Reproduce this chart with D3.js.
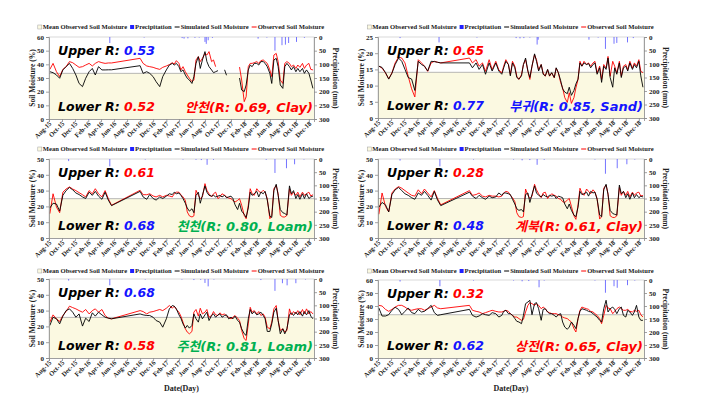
<!DOCTYPE html>
<html>
<head>
<meta charset="utf-8">
<script src="https://cdn.jsdelivr.net/npm/d3@7"></script>
<style>
body { margin: 0; background: #fff; }
svg { display: block; }
</style>
</head>
<body>
<svg id="chart" width="701" height="400"></svg>
<script>
// ---------------------------------------------------------------------------
// Data

// shared sampling dates (no data between late May and October 2016)
var dates = [
  "2015-08-05","2015-08-20","2015-09-05","2015-09-20","2015-10-05","2015-10-20","2015-11-05","2015-11-20","2015-12-05","2015-12-20",
  "2016-01-05","2016-01-20","2016-02-05","2016-02-20","2016-03-05","2016-03-20","2016-04-05","2016-04-20","2016-05-05","2016-05-20",
  "2016-10-01","2016-10-15","2016-11-01","2016-11-15","2016-12-01","2016-12-15","2017-01-01","2017-01-15","2017-02-01","2017-02-15",
  "2017-03-01","2017-03-10","2017-03-20","2017-04-01","2017-04-10","2017-04-20","2017-05-01","2017-05-10","2017-05-20","2017-06-01",
  "2017-06-10","2017-06-20","2017-07-01","2017-07-10","2017-07-20","2017-08-01","2017-08-10","2017-08-20","2017-09-01","2017-09-10",
  "2017-09-20","2017-10-01","2017-10-10","2017-10-20","2017-11-01","2017-11-10","2017-11-20","2017-12-01","2017-12-10","2017-12-20",
  "2018-01-01","2018-01-10","2018-01-20","2018-02-01","2018-02-10","2018-02-20","2018-03-01","2018-03-10","2018-03-20","2018-04-01",
  "2018-04-10","2018-04-20","2018-05-01","2018-05-10","2018-05-20","2018-06-01","2018-06-10","2018-06-20","2018-07-01","2018-07-10",
  "2018-07-20","2018-08-01","2018-08-10","2018-08-20","2018-09-01","2018-09-10","2018-09-20","2018-10-01","2018-10-10","2018-10-20",
  "2018-11-01","2018-11-10","2018-11-20","2018-12-01","2018-12-10","2018-12-20"
];

// 안천
var ancheonObs = [
  36.3, 40.7, 34.6, 31, 36.3, 38.3, 42, 41.2, 39.5, 37.8,
  38.3, 39.5, 40.7, 38.8, 40.7, 42, 41.2, 40.7, 41, 41,
  44.4, 40.7, 38.8, 38.3, 37.8, 37, 36.3, 37.8, 38.8, 39.8,
  41.2, 40.2, 42.7, 40.7, 35.9, 38.3, 34.6, 32.2, 29.8, 27.3,
  28.5, 43.2, 45.6, 42, 44.4, 48, 46.8, 49.3, 42, 43.2,
  38.3, null, null, null, null, null, null, null, null, null,
  null, 38, 28.5, 12.7, 16.3, 38.3, 40.7, 40.7, 41.2, 42,
  40.7, 42.7, 43.2, 42, 40.7, 35.9, 31, 46.8, 48, 42,
  28.5, 26, 40.7, 42, 40.7, 38.3, 39.5, 37, 39.5, 37.8,
  40.7, 37, 39.5, 40.7, 36.3, 35.9
];
var ancheonSim = [
  34.6, 33.9, 32.2, 29.8, 35.9, 38.3, 40.7, 37, 32.2, 26,
  23.7, 29.8, 34.6, 37, 32.2, 38.3, 35.9, 35.9, 36, 36,
  39, 33.4, 34.6, 33.4, 31, 27.3, 23.7, 31, 35.9, 39.5,
  40.7, 39.5, 40.7, 38.3, 34.6, 35.9, 32.2, 29.8, 28.5, 26,
  31, 40.7, 45.6, 37, 43.2, 49.3, 42, 38.3, 35.9, 33.9,
  34.6, 35.4, null, null, 36, 32, null, null, null, null,
  null, 30, 21.2, 20, 24.9, 35.9, 39.5, 38.3, 40.7, 40.7,
  39.5, 42, 42, 40.7, 38.3, 33.4, 26, 43.2, 44.4, 38.3,
  24.9, 22.4, 38.3, 40.7, 38.3, 35.9, 38.3, 34.6, 37, 34.6,
  37, 33.4, 35.9, 33.4, 28.5, 22.4
];
var ancheonRain = [["2016-05-12", 22], ["2016-10-20", 2], ["2017-04-16", 4], ["2017-04-25", 6],
  ["2017-05-13", 5], ["2017-06-15", 3], ["2017-07-05", 2], ["2017-08-01", 18], ["2017-08-07", 25],
  ["2017-08-16", 12], ["2017-09-05", 3], ["2018-04-07", 6], ["2018-05-18", 2], ["2018-06-25", 50],
  ["2018-07-28", 30], ["2018-08-13", 28], ["2018-08-28", 22], ["2018-10-04", 18], ["2018-11-10", 3]];
var ancheonMean = 33.4;

// 부귀
var bugwiObs = [
  16, 15.4, 13.9, 12.1, 13.9, 17, 18.8, 18.5, 17, 12.9,
  9, 6.5, 18, 17, 16, 14.4, 17, 17.5, 17.2, 17,
  18.5, 17, 18, 16, 17, 14.4, 18, 14.9, 17.5, 14.9,
  13.9, 16, 18, 16.5, 13.4, 17.5, 16, 12.9, 11.9, 13.4,
  16.5, 18, 14.4, 11.9, 16, 19.5, 18, 14.9, 16.5, 13.9,
  12.9, 14.9, 12.9, 13.9, 12.4, 15.4, 13.9, 10.9, 9.3, 6.3,
  4.8, 7.8, 4.5, 6.3, 9.3, 11.9, 17.5, 16, 17.5, 16.5,
  17, 16, 17, 17.5, 13.9, 16, 11.9, 16.5, 15.4, 19,
  12.9, 17.5, 16, 13.9, 17.5, 12.9, 16, 16.5, 14.9, 17.5,
  15.4, 17, 16, 18, 14.4, 14
];
var bugwiSim = [
  16, 15.6, 14, 12, 13.8, 16.5, 18.5, 17.5, 15, 12.5,
  12, 8.5, 17.5, 16.5, 16, 14.5, 17.5, 17.4, 17.2, 17,
  17, 15.5, 17, 15, 16.5, 13.5, 17, 14.5, 17, 14.5,
  13.5, 15.5, 17.5, 16.5, 13, 17, 15.5, 12.5, 12, 13,
  16.5, 18.5, 14.5, 12.5, 16, 19.8, 17.5, 14.5, 16.5, 13.5,
  13, 15, 13, 14, 12.5, 15.5, 14, 11.5, 9, 8,
  7.5, 9.5, 7, 8.5, 10.5, 12, 17, 16, 17, 16.5,
  16.8, 15.5, 16.5, 17, 13.5, 15.5, 11, 16, 15, 18.5,
  12.5, 9.5, 15.5, 13.5, 17, 12.5, 15.5, 16, 14.5, 17,
  15, 16.5, 15.5, 17.5, 13, 9.5
];
var bugwiRain = [["2015-11-12", 4], ["2016-05-12", 20], ["2016-11-05", 2], ["2017-05-07", 4],
  ["2017-05-25", 5], ["2017-06-12", 4], ["2017-07-10", 2], ["2017-08-13", 28], ["2017-08-18", 10],
  ["2018-04-12", 10], ["2018-05-25", 2], ["2018-06-28", 44], ["2018-08-07", 25], ["2018-08-20", 22],
  ["2018-10-09", 20], ["2018-11-05", 4]];
var bugwiMean = 14.1;

// 천천
var cheoncheonObs = [
  15.4, 28, 19.6, 16, 29, 31, 32.3, 31, 30, 28.7,
  27.4, 26, 30, 28, 31.2, 28, 26, 30, 24.9, 20.7,
  30.2, 27.4, 27.4, 28, 26.6, 26, 27, 26, 27, 26.6,
  26, 28, 29, 29, 27.4, 26, 23.8, 16.5, 14, 13.3,
  14, 30.2, 27, 24.9, 26, 34.4, 30.2, 28, 26, 28,
  29, 24.9, 26, 28, 27, 26, 25.3, 24.9, 23.8, 22.8,
  23.8, 24.9, 20.7, 14.3, 12.2, 20.7, 31.2, 28, 27, 31.2,
  29.5, 28.7, 30.2, 29, 24.9, 12.2, 14.3, 31.2, 33.3, 28,
  14.3, 13.3, 13.3, 14.3, 31.2, 27, 29, 27, 29, 26,
  29, 27, 28, 29, 26.6, 27.4
];
var cheoncheonSim = [
  19, 22, 21.5, 17, 27, 30, 32, 30.5, 28.5, 27.5,
  26, 25, 29, 27, 29.5, 26.5, 24.5, 29, 24, 20.5,
  29.5, 26, 24.5, 27.5, 25, 24, 26, 25, 26.5, 28,
  27.5, 29, 28, 28.5, 27, 25, 22, 19, 17, 18.5,
  16, 27, 29, 22, 27, 33, 29, 27, 26.5, 27,
  26, 26.5, 27, 26, 27, 25.5, 26, 26.5, 25, 21,
  18, 22, 17, 15, 13, 19, 29, 27, 28, 29.5,
  26, 29, 28, 29.5, 24, 14, 13, 30, 34, 27,
  18, 16, 15.5, 14.5, 33, 28, 30, 25, 27.5, 24.5,
  28, 25, 28, 25, 26, 26.5
];
var cheoncheonRain = [["2015-11-01", 8], ["2016-05-12", 28], ["2016-10-25", 2], ["2017-04-20", 2],
  ["2017-06-20", 3], ["2017-07-15", 4], ["2017-08-11", 22], ["2017-09-10", 3], ["2018-05-15", 3],
  ["2018-06-25", 53], ["2018-08-18", 35], ["2018-09-25", 20], ["2018-11-08", 2]];
var cheoncheonMean = 24.9;

// 계북
var gyebukObs = [
  15, 28.5, 20, 16.5, 28.5, 31, 32.5, 31.5, 30, 28.5,
  27, 26.5, 30.5, 28, 31, 28.5, 26, 30, 25, 21,
  30, 27, 27.5, 28.5, 26.5, 26, 27, 26.5, 26.5, 26,
  26.5, 28.5, 29.5, 29, 27, 25.5, 23, 16, 13.5, 13,
  13.5, 31, 27, 25, 26.5, 34, 30.5, 28, 25.5, 28.5,
  29, 25, 26.5, 28, 27, 26.5, 25, 24.5, 23, 22.5,
  24, 25, 20, 14, 11.8, 21, 31.5, 28.5, 27, 31,
  29.5, 28, 30.5, 29, 25, 12, 13.5, 31.5, 33.5, 28,
  14, 13, 13, 14, 32, 27, 29.5, 27, 29.5, 26,
  29, 27, 28.5, 29, 26.5, 27
];
var gyebukSim = [
  19.5, 22.5, 21, 16.5, 27.5, 30.5, 32, 30, 28, 27,
  25.5, 24.5, 28.5, 27, 29.5, 27, 24, 29.5, 24, 20.5,
  29, 26.5, 25, 27, 25.5, 24.5, 26.5, 25.5, 26, 28.5,
  27, 28.5, 28.5, 28, 27.5, 24.5, 21.5, 18.5, 17.5, 18,
  16.5, 27.5, 28.5, 22.5, 27.5, 33, 28.5, 27, 26, 27.5,
  26.5, 26, 27, 26.5, 27, 25, 26.5, 26, 25.5, 21.5,
  18.5, 21.5, 17.5, 14.5, 13.5, 19.5, 29.5, 27.5, 28, 29,
  26.5, 29.5, 28.5, 29, 24.5, 14.5, 13.5, 30.5, 34, 27.5,
  17.5, 15.5, 15, 14.5, 33.5, 28, 29.5, 25.5, 28, 24.5,
  28.5, 25.5, 27.5, 25.5, 26.5, 26
];
var gyebukRain = [["2015-11-12", 6], ["2016-05-16", 28], ["2016-10-20", 2], ["2017-04-25", 2],
  ["2017-06-04", 5], ["2017-07-10", 4], ["2017-08-13", 22], ["2017-09-15", 3], ["2018-05-10", 2],
  ["2018-06-28", 56], ["2018-08-22", 35], ["2018-10-06", 20], ["2018-11-12", 2]];
var gyebukMean = 25;

// 주천
var jucheonObs = [
  22.7, 27.3, 24.8, 23.1, 26.9, 29.4, 32.8, 31.9, 31.1, 30,
  29, 30.7, 27.9, 30, 31.1, 29, 30.7, 26.9, 25.2, 24.8,
  30, 29.4, 27.9, 29, 29.4, 30, 30.7, 30, 31.5, 33.2,
  31.5, 32.8, 30.7, 29, 26.5, 22.7, 18.5, 16.4, 15.3, 16.8,
  29, 30.7, 26.5, 31.5, 27.9, 29, 30.7, 25.8, 26.9, 29.4,
  27.3, 26.9, 28.6, 27.3, 27.9, 26.5, 25.8, 24.8, 25.8, 26.9,
  25.2, 23.7, 17.4, 12.2, 11.1, 21.6, 32.1, 29, 30, 27.9,
  29.4, 26.9, 27.9, 25.8, 19.5, 18.5, 22.7, 31.1, 33.2, 23.7,
  17.4, 18.5, 16.4, 17.4, 31.1, 27.3, 29.4, 27.9, 30, 27.3,
  30.7, 27.9, 31.1, 27.9, 29.4, 27.9
];
var jucheonSim = [
  20.6, 25.8, 24.8, 21.6, 26.5, 30, 31.1, 29, 25.8, 27.9,
  20.2, 25.2, 23.1, 28.6, 26.5, 29, 27.3, 25.8, 25.2, 24.8,
  27.9, 27.3, 26.9, 26.9, 25.8, 23.7, 22.7, 19.5, 24.8, 31.1,
  33.2, 32.8, 31.1, 27.3, 25.2, 21.6, 18.9, 20.6, 18.9, 20.6,
  27.9, 24.8, 22.7, 27.9, 24.8, 27.3, 29, 23.7, 26.9, 27.9,
  25.8, 27.3, 27.9, 25.8, 26.9, 27.3, 24.8, 25.8, 24.8, 26.5,
  23.7, 22.7, 18.5, 15.3, 14.3, 24.8, 30.7, 27.9, 29.4, 27.3,
  27.9, 29, 26.9, 24.8, 16.8, 16.8, 21.6, 29, 31.5, 23.7,
  15.3, 18.5, 15.3, 18.5, 27.3, 28.6, 26.9, 29, 27.3, 29.4,
  26.5, 29.4, 27.3, 30, 26.5, 24.8
];
var jucheonRain = [["2015-11-01", 6], ["2016-05-12", 24], ["2016-10-25", 2], ["2017-04-15", 2],
  ["2017-06-10", 4], ["2017-07-12", 3], ["2017-08-01", 15], ["2017-08-16", 28], ["2017-09-12", 2],
  ["2018-04-20", 4], ["2018-06-25", 45], ["2018-07-30", 16], ["2018-08-21", 24], ["2018-10-01", 16],
  ["2018-11-15", 2]];
var jucheonMean = 25.7;

// 상전
var sangjeonObs = [
  40.5, 40, 37.4, 35.9, 37.4, 39.2, 40.5, 40.5, 39.2, 37.4,
  36.7, 37.4, 37.9, 37.9, 36.7, 37.9, 39.2, 40.5, 38.5, 37.9,
  40.5, 36.7, 35.9, 35.4, 34.1, 34.9, 35.9, 36.7, 35.9, 35.4,
  35.4, 35.9, 36.7, 35.9, 34.1, 32.8, 31.5, 31.5, 30.3, 29,
  29.7, 35.4, 40.5, 42.6, 41.8, 40.5, 41.8, 40.5, 37.9, 39.2,
  37.9, 35.4, 34.9, 34.1, 34.1, 34.1, 33.3, 32.8, 31.5, 30.8,
  30.3, 29, 27.7, 22.6, 20, 30.3, 36.7, 39.2, 38.5, 37.9,
  37.4, 35.9, 35.4, 34.1, 32.8, 30.3, 26.4, 32.8, 40.5, 38.5,
  37.9, 34.1, 35.9, 37.9, 39.2, 37.9, 36.7, 36.7, 37.4, 35.9,
  35.4, 36.7, 35.9, 36.7, 33.3, 31.5
];
var sangjeonSim = [
  38.5, 32.3, 32.3, 33.3, 36.7, 39, 37.4, 33.3, 35.9, 38.5,
  34.9, 34.1, 37.4, 35.4, 35.9, 37.9, 40.5, 34.9, 32.8, 33.3,
  37.4, 32.8, 31.5, 32.3, 34.1, 33.3, 32.8, 34.9, 34.1, 31.5,
  32.8, 35.9, 36.7, 34.1, 34.1, 32.8, 30.3, 28.2, 27.7, 26.4,
  32.8, 41.8, 43.1, 44.4, 33.3, 41.8, 42.6, 37.9, 29, 37.4,
  37.9, 35.4, 34.1, 34.1, 32.8, 31.5, 33.3, 34.1, 27.7, 23.8,
  22.1, 23.8, 27.7, 25.1, 22.6, 30.3, 35.9, 37.9, 37.4, 36.7,
  35.9, 35.4, 34.1, 32.8, 31.5, 29, 27.7, 37.9, 44.4, 35.4,
  37.9, 39.2, 37.4, 34.1, 37.9, 39.2, 32.8, 31.5, 36.7, 35.4,
  32.8, 35.4, 40.5, 31.5, 29, 29
];
var sangjeonRain = [["2015-11-12", 6], ["2016-05-16", 24], ["2016-10-20", 2], ["2017-04-25", 2],
  ["2017-06-04", 5], ["2017-07-05", 4], ["2017-08-22", 28], ["2017-09-15", 2], ["2018-05-10", 2],
  ["2018-06-28", 49], ["2018-08-07", 24], ["2018-08-22", 30], ["2018-10-09", 20], ["2018-11-12", 2]];
var sangjeonMean = 33.3;

var siteNames  = ["안천", "부귀", "천천", "계북", "주천", "상전"];
var siteR      = ["0.69", "0.85", "0.80", "0.61", "0.81", "0.65"];
var siteSoil   = ["Clay", "Sand", "Loam", "Clay", "Loam", "Clay"];
var upperR     = ["0.53", "0.65", "0.61", "0.28", "0.68", "0.32"];
var lowerR     = ["0.52", "0.77", "0.68", "0.48", "0.58", "0.62"];
var moistureMax = [60, 25, 50, 50, 50, 60];
var moistureStep = [10, 5, 10, 10, 10, 10];
var rainTicks = [0, 50, 100, 150, 200, 250, 300];
var legendLabels = ["Mean Observed Soil Moisture", "Precipitation", "Simulated Soil Moisture", "Observed Soil Moisture"];

// ---------------------------------------------------------------------------
// Layout

var RED = "#ff0000", BLUE = "#1414ff", GREEN = "#00b050";
var serif = "'Liberation Serif', 'Times New Roman', serif";
var italic = "'DejaVu Sans', 'Noto Sans CJK KR', sans-serif";

var panels = [
  {obs: ancheonObs, sim: ancheonSim, rain: ancheonRain, mean: ancheonMean,
   upC: BLUE, loC: RED, siteC: RED, left: 49, right: 314, top: 37, bottom: 119, legendY: 27},
  {obs: bugwiObs, sim: bugwiSim, rain: bugwiRain, mean: bugwiMean,
   upC: RED, loC: BLUE, siteC: BLUE, left: 378, right: 644, top: 37, bottom: 118, legendY: 27},
  {obs: cheoncheonObs, sim: cheoncheonSim, rain: cheoncheonRain, mean: cheoncheonMean,
   upC: RED, loC: BLUE, siteC: GREEN, left: 49, right: 314, top: 159, bottom: 238, legendY: 149},
  {obs: gyebukObs, sim: gyebukSim, rain: gyebukRain, mean: gyebukMean,
   upC: RED, loC: BLUE, siteC: RED, left: 378, right: 644, top: 159, bottom: 238, legendY: 149},
  {obs: jucheonObs, sim: jucheonSim, rain: jucheonRain, mean: jucheonMean,
   upC: BLUE, loC: RED, siteC: GREEN, left: 49, right: 314, top: 279, bottom: 358, legendY: 271, dateTitle: true},
  {obs: sangjeonObs, sim: sangjeonSim, rain: sangjeonRain, mean: sangjeonMean,
   upC: RED, loC: BLUE, siteC: RED, left: 378, right: 644, top: 280, bottom: 358, legendY: 271, dateTitle: true}
];

var parse = d3.timeParse("%Y-%m-%d");
var xDomain = [parse("2015-08-01"), parse("2018-12-25")];
var monthTicks = d3.timeMonth.range(parse("2015-08-01"), parse("2018-12-02"), 2);

var svg = d3.select("#chart");

function styleAxis(sel) {
    sel.attr("font-family", serif).attr("font-size", 7).attr("font-weight", "bold");
    sel.select(".domain").attr("stroke", "#8c8c8c").attr("stroke-width", 0.8);
    sel.selectAll(".tick line").attr("stroke", "#8c8c8c").attr("stroke-width", 0.8);
    sel.selectAll(".tick text").attr("fill", "#222");
}

function drawLegend(cx, cy) {
    var lg = svg.append("g")
        .attr("font-family", serif).attr("font-size", 6.6).attr("font-weight", "bold");
    var xpos = 0;
    legendLabels.forEach(function(label, i) {
        var ig = lg.append("g").attr("transform", "translate(" + xpos + ",0)");
        if (i === 0) {
            ig.append("rect").attr("x", 0).attr("y", -2).attr("width", 4).attr("height", 4)
                .attr("fill", "#fbf9e1").attr("stroke", "#a0a0a0").attr("stroke-width", 0.5);
        } else if (i === 1) {
            ig.append("rect").attr("x", 0).attr("y", -2).attr("width", 4).attr("height", 4)
                .attr("fill", "#2020ff");
        } else {
            ig.append("line").attr("x1", 0).attr("x2", 5).attr("y1", 0).attr("y2", 0)
                .attr("stroke", i === 2 ? "#000" : RED).attr("stroke-width", 1);
        }
        var t = ig.append("text").attr("x", i < 2 ? 5 : 6).attr("dy", "0.35em").attr("fill", "#222").text(label);
        xpos += (i < 2 ? 5 : 6) + t.node().getComputedTextLength() + 3;
    });
    lg.attr("transform", "translate(" + (cx - xpos / 2) + "," + cy + ")");
}

function drawPanel(p, i) {
    var w = p.right - p.left, h = p.bottom - p.top;
    var g = svg.append("g").attr("transform", "translate(" + p.left + "," + p.top + ")");

    var x = d3.scaleTime().domain(xDomain).range([0, w]);
    var y = d3.scaleLinear().domain([0, moistureMax[i]]).range([h, 0]);
    var yr = d3.scaleLinear().domain([0, 300]).range([0, h]);

    g.append("rect").attr("width", w).attr("height", h)
        .attr("fill", "#fff").attr("stroke", "#cfcfcf").attr("stroke-width", 0.8);

    // mean observed soil moisture (area)
    var meanPts = xDomain.map(function(d) { return {date: d, v: p.mean}; });
    g.append("path").datum(meanPts)
        .attr("d", d3.area().x(function(d) { return x(d.date); }).y0(h).y1(function(d) { return y(d.v); }))
        .attr("fill", "#fbf9e1");
    g.append("path").datum(meanPts)
        .attr("d", d3.line().x(function(d) { return x(d.date); }).y(function(d) { return y(d.v); }))
        .attr("fill", "none").attr("stroke", "#a6a6a6").attr("stroke-width", 0.8);

    // precipitation, hanging from the top
    g.selectAll(".rain").data(p.rain).enter().append("line")
        .attr("x1", function(d) { return x(parse(d[0])); })
        .attr("x2", function(d) { return x(parse(d[0])); })
        .attr("y1", yr(0))
        .attr("y2", function(d) { return yr(d[1]); })
        .attr("stroke", "#5050ff").attr("stroke-width", 0.8);

    var line = d3.line()
        .defined(function(d) { return d.v != null; })
        .x(function(d) { return x(d.date); })
        .y(function(d) { return y(d.v); });
    var toPts = function(arr) {
        return dates.map(function(s, k) { return {date: parse(s), v: arr[k]}; });
    };
    g.append("path").datum(toPts(p.obs)).attr("d", line)
        .attr("fill", "none").attr("stroke", RED).attr("stroke-width", 0.9);
    g.append("path").datum(toPts(p.sim)).attr("d", line)
        .attr("fill", "none").attr("stroke", "#000").attr("stroke-width", 0.9);

    // axes
    g.append("g")
        .call(d3.axisLeft(y).tickValues(d3.range(0, moistureMax[i] + 0.1, moistureStep[i])).tickSize(3).tickPadding(2))
        .call(styleAxis);
    g.append("g").attr("transform", "translate(" + w + ",0)")
        .call(d3.axisRight(yr).tickValues(rainTicks).tickSize(3).tickPadding(2))
        .call(styleAxis);
    var xa = g.append("g").attr("transform", "translate(0," + h + ")")
        .call(d3.axisBottom(x).tickValues(monthTicks).tickFormat(d3.timeFormat("%b-%y")).tickSize(3))
        .call(styleAxis);
    xa.selectAll(".tick text")
        .attr("font-size", 6.6)
        .attr("x", -2).attr("y", 3).attr("dy", "0.35em")
        .attr("transform", "rotate(-45)")
        .style("text-anchor", "end");

    // axis titles
    svg.append("text")
        .attr("transform", "translate(" + (p.left - 17) + "," + (p.top + h / 2) + ") rotate(-90)")
        .attr("text-anchor", "middle").attr("dy", "0.35em")
        .attr("font-family", serif).attr("font-size", 7.5).attr("font-weight", "bold").attr("fill", "#222")
        .text("Soil Moisture (%)");
    svg.append("text")
        .attr("transform", "translate(" + (p.right + 22) + "," + (p.top + h / 2) + ") rotate(90)")
        .attr("text-anchor", "middle").attr("dy", "0.35em")
        .attr("font-family", serif).attr("font-size", 7.5).attr("font-weight", "bold").attr("fill", "#222")
        .text("Precipitation (mm)");
    if (p.dateTitle) {
        svg.append("text")
            .attr("x", p.left + w / 2).attr("y", 391)
            .attr("text-anchor", "middle")
            .attr("font-family", serif).attr("font-size", 8).attr("font-weight", "bold").attr("fill", "#222")
            .text("Date(Day)");
    }

    drawLegend(p.left + w / 2 + 1, p.legendY);

    // R annotations
    var up = g.append("text").attr("x", 9).attr("y", 18)
        .attr("font-family", italic).attr("font-size", 12.5).attr("font-weight", "bold").attr("font-style", "italic");
    up.append("tspan").attr("fill", "#000").text("Upper R: ");
    up.append("tspan").attr("fill", p.upC).text(upperR[i]);
    var lo = g.append("text").attr("x", 9).attr("y", h - 8)
        .attr("font-family", italic).attr("font-size", 12.5).attr("font-weight", "bold").attr("font-style", "italic");
    lo.append("tspan").attr("fill", "#000").text("Lower R: ");
    lo.append("tspan").attr("fill", p.loC).text(lowerR[i]);
    g.append("text").attr("x", w - 1).attr("y", h - 7)
        .attr("text-anchor", "end")
        .attr("font-family", italic).attr("font-size", 13).attr("font-weight", "bold").attr("font-style", "italic")
        .attr("fill", p.siteC)
        .text(siteNames[i] + "(R: " + siteR[i] + ", " + siteSoil[i] + ")");
}

panels.forEach(drawPanel);
</script>
</body>
</html>
